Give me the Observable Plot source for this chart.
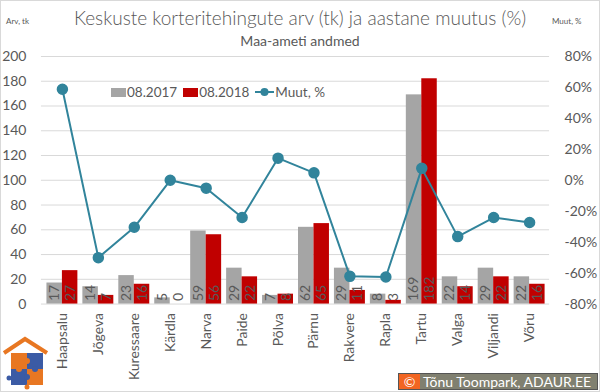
<!DOCTYPE html>
<html><head><meta charset="utf-8">
<script src="https://cdn.jsdelivr.net/npm/d3@7"></script>
<script src="https://cdn.jsdelivr.net/npm/@observablehq/plot@0.6"></script>
<style>
html,body{margin:0;padding:0;background:#fff;}
#wrap{position:relative;width:600px;height:392px;box-sizing:border-box;border:1px solid #D9D9D9;font-family:Lato,"Open Sans",sans-serif;color:#595959;overflow:hidden;background:#fff}
#title{position:absolute;top:5px;left:0;width:598px;text-align:center;font-size:19px;font-weight:300;white-space:nowrap}
#sub{position:absolute;top:31px;left:0;width:598px;text-align:center;font-size:14px;white-space:nowrap}
#ly{position:absolute;top:15px;left:5px;font-size:8px}
#ry{position:absolute;top:15px;left:551px;font-size:8px}
#chart{position:absolute;top:47px;left:-1px}
#legend{position:absolute;top:83px;left:110px;font-size:13.5px;white-space:nowrap;display:flex;align-items:center;background:#fff}
#legend .sw{display:inline-block;width:15px;height:9px;margin-right:1px}
#legend .it{display:flex;align-items:center;margin-right:6px}
#cap{position:absolute;left:397px;top:372px;width:200px;height:17px;background:#808070;border:1px solid #555;color:#fff;font-size:14px;display:flex;align-items:center;box-sizing:border-box}
#cap .c{background:#F26522;width:21px;height:100%;display:flex;align-items:center;justify-content:center;margin-right:3px}
#logo{position:absolute;left:0;top:333px}
</style></head><body>
<div id="wrap">
<div id="title">Keskuste korteritehingute arv (tk) ja aastane muutus (%)</div>
<div id="sub">Maa-ameti andmed</div>
<div id="ly">Arv, tk</div>
<div id="ry">Muut, %</div>
<div id="chart"></div>
<div id="legend"></div>
<svg id="logo" width="50" height="58">
  <polyline points="3,19 24,5 46,19" fill="none" stroke="#E87722" stroke-width="4"/>
  <rect x="10" y="19" width="16" height="16" fill="#E87722"/>
  <rect x="26" y="19" width="16" height="16" fill="#3B5BA5"/>
  <rect x="10" y="35" width="16" height="16" fill="#3B5BA5"/>
  <rect x="26" y="35" width="16" height="16" fill="#E87722"/>
  <circle cx="26" cy="27" r="3" fill="#E87722"/>
  <circle cx="34" cy="35" r="3" fill="#3B5BA5"/>
  <circle cx="18" cy="35" r="3" fill="#E87722"/>
  <circle cx="26" cy="43" r="3" fill="#3B5BA5"/>
  <circle cx="8" cy="44" r="2.5" fill="#3B5BA5"/>
  <circle cx="26" cy="53" r="2.5" fill="#E87722"/>
</svg>
<div id="cap"><span class="c">©</span>Tõnu Toompark, ADAUR.EE</div>
</div>
<script>
const categories = ["Haapsalu","Jõgeva","Kuressaare","Kärdla","Narva","Paide","Põlva","Pärnu","Rakvere","Rapla","Tartu","Valga","Viljandi","Võru"];
const v2017 = [17,14,23,5,59,29,7,62,29,8,169,22,29,22];
const v2018 = [27,7,16,0,56,22,8,65,11,3,182,14,22,16];
const changePct = [58.8,-50,-30.4,0,-5.1,-24.1,14.3,4.8,-62.1,-62.5,7.7,-36.4,-24.1,-27.3];
const leftTicks = [0,20,40,60,80,100,120,140,160,180,200];
const rightTicks = [-80,-60,-40,-20,0,20,40,60,80];
const seriesNames = ["08.2017","08.2018","Muut, %"];
const colors = {grey:"#A5A5A5", red:"#C00000", line:"#31849B", text:"#595959", grid:"#D9D9D9"};

// right axis (-80%..80%) mapped onto left domain (0..200)
const toLeft = p => (p + 80) * 200 / 160;
const rows = categories.map((c,i)=>({cat:c, a:v2017[i], b:v2018[i], p:changePct[i]}));

const chart = Plot.plot({
  width: 600, height: 330,
  marginTop: 8, marginBottom: 74, marginLeft: 41, marginRight: 50,
  style: {fontFamily: "Lato, 'Open Sans', sans-serif", color: colors.text, background: "transparent", overflow: "visible"},
  x: {type: "band", domain: categories, padding: 0, label: null},
  y: {domain: [0, 200], label: null},
  marks: [
    Plot.ruleY(leftTicks, {stroke: colors.grid, strokeWidth: 1}),
    Plot.barY(rows, {x: "cat", y: "a", fill: colors.grey, insetLeft: 2.5, insetRight: 18}),
    Plot.barY(rows, {x: "cat", y: "b", fill: colors.red, insetLeft: 18, insetRight: 2.5}),
    Plot.text(rows, {x: "cat", y: 0, text: "a", rotate: -90, textAnchor: "start", dx: -8, dy: -3, fill: colors.text, fontSize: 14}),
    Plot.text(rows, {x: "cat", y: 0, text: "b", rotate: -90, textAnchor: "start", dx: 8, dy: -3, fill: colors.text, fontSize: 14}),
    Plot.line(rows, {x: "cat", y: d => toLeft(d.p), stroke: colors.line, strokeWidth: 2}),
    Plot.dot(rows, {x: "cat", y: d => toLeft(d.p), r: 5, fill: colors.line, stroke: colors.line}),
    Plot.axisY(leftTicks, {anchor: "left", tickSize: 0, tickPadding: 15, label: null, fontSize: 14, fill: colors.text}),
    Plot.axisY(rightTicks.map(toLeft), {anchor: "right", tickSize: 0, tickPadding: 15, label: null, fontSize: 14, fill: colors.text,
      tickFormat: v => `${Math.round(v * 160 / 200 - 80)}%`}),
    Plot.axisX({tickSize: 0, tickRotate: -90, tickPadding: 9, label: null, fontSize: 14, fill: colors.text})
  ]
});
document.getElementById("chart").appendChild(chart);

const lg = document.getElementById("legend");
lg.innerHTML =
  `<span class="it"><span class="sw" style="background:${colors.grey}"></span>${seriesNames[0]}</span>` +
  `<span class="it"><span class="sw" style="background:${colors.red}"></span>${seriesNames[1]}</span>` +
  `<span class="it"><svg width="19" height="12" style="margin-right:1px"><line x1="0" x2="19" y1="6" y2="6" stroke="${colors.line}" stroke-width="2"/><circle cx="9.5" cy="6" r="4" fill="${colors.line}"/></svg>${seriesNames[2]}</span>`;
</script>
</body></html>
